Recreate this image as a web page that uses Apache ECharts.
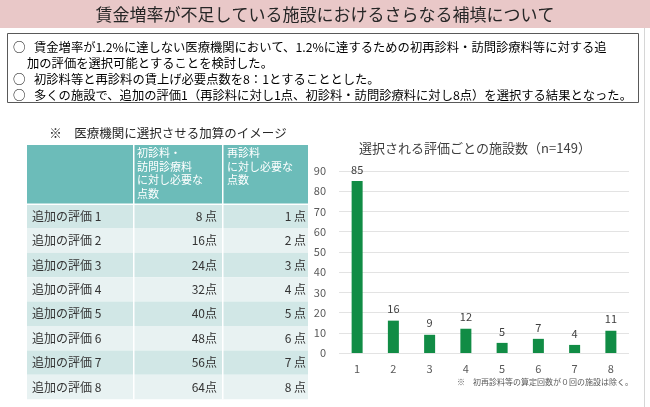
<!DOCTYPE html>
<html><head><meta charset="utf-8">
<script src="https://cdn.jsdelivr.net/npm/echarts@6/dist/echarts.min.js"></script>
<style>html,body{margin:0;padding:0;background:#fff}#c{width:650px;height:407px}</style>
</head><body><div id="c"></div>
<script>
// ---- data ----
const pageTitle = '賃金増率が不足している施設におけるさらなる補填について';
const bulletLines = [
  ['○', '賃金増率が1.2%に達しない医療機関において、1.2%に達するための初再診料・訪問診療料等に対する追'],
  ['', '加の評価を選択可能とすることを検討した。'],
  ['○', '初診料等と再診料の賃上げ必要点数を8：1とすることとした。'],
  ['○', '多くの施設で、追加の評価1（再診料に対し1点、初診料・訪問診療料に対し8点）を選択する結果となった。']
];
const tableTitle = '※　医療機関に選択させる加算のイメージ';
const headerCol2 = ['初診料・', '訪問診療料', 'に対し必要な', '点数'];
const headerCol3 = ['再診料', 'に対し必要な', '点数'];
const rowLabels = ['追加の評価 1','追加の評価 2','追加の評価 3','追加の評価 4','追加の評価 5','追加の評価 6','追加の評価 7','追加の評価 8'];
const initialPoints = [8, 16, 24, 32, 40, 48, 56, 64];
const revisitPoints = [1, 2, 3, 4, 5, 6, 7, 8];
const chartTitle = '選択される評価ごとの施設数（n=149）';
const categories = ['1','2','3','4','5','6','7','8'];
const facilityCounts = [85, 16, 9, 12, 5, 7, 4, 11];
const yTicks = { min: 0, max: 90, interval: 10 };
const footnote = '※　初再診料等の算定回数が０回の施設は除く。';

// ---- layout ----
const FONT = '"Noto Sans CJK JP", "Noto Sans", sans-serif';
const g = [];
// header band
g.push({ type: 'rect', shape: { x: 0, y: 0, width: 650, height: 28 }, style: { fill: '#e9c8c8' } });
g.push({ type: 'text', x: 325, y: 15, style: { text: pageTitle, font: '17px ' + FONT, fill: '#262626', textAlign: 'center', textVerticalAlign: 'middle' } });
// right panel edge
g.push({ type: 'line', shape: { x1: 644.5, y1: 28, x2: 644.5, y2: 407 }, style: { stroke: '#d6d6d6', lineWidth: 1 } });
// bullet box
g.push({ type: 'rect', shape: { x: 7.5, y: 33.5, width: 631, height: 69 }, style: { fill: '#fff', stroke: '#595959', lineWidth: 1 } });
const lineYs = [47, 63, 79, 95];
bulletLines.forEach((ln, i) => {
  if (ln[0]) g.push({ type: 'text', x: 13, y: lineYs[i], style: { text: ln[0], font: '12.5px ' + FONT, fill: '#000', textVerticalAlign: 'middle' } });
  g.push({ type: 'text', x: ln[0] ? 34 : 27, y: lineYs[i], style: { text: ln[1], font: '12.3px ' + FONT, fill: '#000', textVerticalAlign: 'middle' } });
});
// table
g.push({ type: 'text', x: 168, y: 133, style: { text: tableTitle, font: '12.5px ' + FONT, fill: '#262626', textAlign: 'center', textVerticalAlign: 'middle' } });
const colX = [27, 134, 223, 308];
const headTop = 145, headBot = 204, rowH = 24.4;
g.push({ type: 'rect', shape: { x: colX[0], y: headTop, width: colX[3] - colX[0], height: headBot - headTop }, style: { fill: '#6cbcb9' } });
headerCol2.forEach((t, i) => g.push({ type: 'text', x: colX[1] + 3, y: 153 + i * 13.5, style: { text: t, font: '11px ' + FONT, fill: '#fff', textVerticalAlign: 'middle' } }));
headerCol3.forEach((t, i) => g.push({ type: 'text', x: colX[2] + 4, y: 153 + i * 13.5, style: { text: t, font: '11px ' + FONT, fill: '#fff', textVerticalAlign: 'middle' } }));
rowLabels.forEach((lab, i) => {
  const y = headBot + i * rowH;
  g.push({ type: 'rect', shape: { x: colX[0], y: y, width: colX[3] - colX[0], height: rowH }, style: { fill: i % 2 === 0 ? '#d1e7e6' : '#e8f2f2' } });
  const cy = y + rowH / 2;
  g.push({ type: 'text', x: 32, y: cy, style: { text: lab, font: '12px ' + FONT, fill: '#333', textVerticalAlign: 'middle' } });
  const v1 = initialPoints[i], v2 = revisitPoints[i];
  g.push({ type: 'text', x: 217, y: cy, style: { text: v1 + (v1 < 10 ? ' 点' : '点'), font: '12px ' + FONT, fill: '#333', textAlign: 'right', textVerticalAlign: 'middle' } });
  g.push({ type: 'text', x: 306, y: cy, style: { text: v2 + (v2 < 10 ? ' 点' : '点'), font: '12px ' + FONT, fill: '#333', textAlign: 'right', textVerticalAlign: 'middle' } });
});
// column separators (white)
[colX[1], colX[2]].forEach(x => g.push({ type: 'rect', shape: { x: x - 1, y: headTop, width: 1.5, height: headBot - headTop + rowH * 8 }, style: { fill: '#fff' } }));
g.push({ type: 'rect', shape: { x: colX[0], y: headBot - 0.5, width: colX[3] - colX[0], height: 1.5 }, style: { fill: '#fff' } });
// footnote
g.push({ type: 'text', x: 633, y: 382, style: { text: footnote, font: '8px ' + FONT, fill: '#595959', textAlign: 'right', textVerticalAlign: 'middle' } });

const chart = echarts.init(document.getElementById('c'), null, { renderer: 'canvas' });
chart.setOption({
  animation: false,
  backgroundColor: '#fff',
  title: { text: chartTitle, left: 470, top: 137, textAlign: 'center', textStyle: { fontFamily: FONT, fontSize: 13, fontWeight: 'normal', color: '#404040' } },
  grid: { left: 339, right: 21, top: 171, bottom: 54 },
  xAxis: {
    type: 'category', data: categories,
    axisLine: { show: false }, axisTick: { show: false },
    axisLabel: { color: '#595959', fontSize: 11, fontFamily: FONT, margin: 10 }
  },
  yAxis: {
    type: 'value', min: yTicks.min, max: yTicks.max, interval: yTicks.interval,
    axisLine: { show: false }, axisTick: { show: false },
    axisLabel: { color: '#595959', fontSize: 11, fontFamily: FONT, margin: 13 },
    splitLine: { lineStyle: { color: '#e3e3e3' } }
  },
  series: [{
    type: 'bar', data: facilityCounts, barWidth: 11,
    itemStyle: { color: '#118c45' },
    label: { show: true, position: 'top', color: '#404040', fontSize: 11, fontFamily: FONT, distance: 6 }
  }],
  graphic: g
});
</script></body></html>
